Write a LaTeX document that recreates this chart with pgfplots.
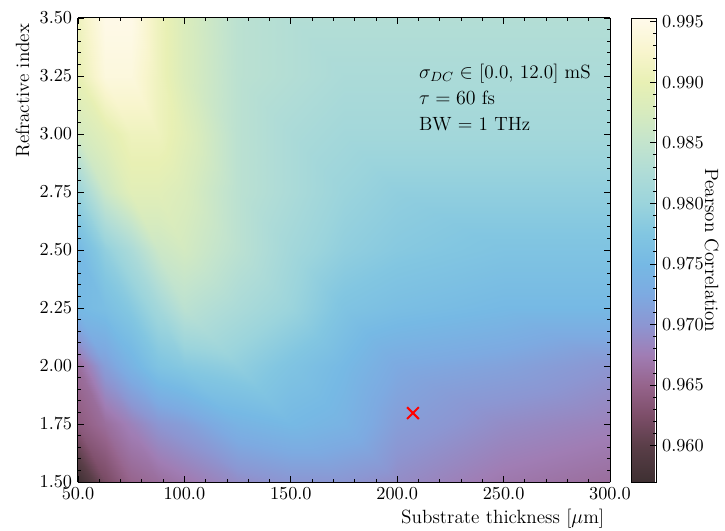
\documentclass[border=0pt]{standalone}
\usepackage{pgfplots}
\pgfplotsset{compat=1.18}
\usepackage{pgfplotstable}

\pgfplotstableread{
x y z
50 1.50 0.957
62.5 1.50 0.962
75 1.50 0.965
87.5 1.50 0.966
100 1.50 0.967
125 1.50 0.969
150 1.50 0.970
175 1.50 0.970
200 1.50 0.969
250 1.50 0.967
300 1.50 0.966
50 1.75 0.964
62.5 1.75 0.966
75 1.75 0.968
87.5 1.75 0.970
100 1.75 0.971
125 1.75 0.974
150 1.75 0.975
175 1.75 0.974
200 1.75 0.971
250 1.75 0.969
300 1.75 0.968
50 2.00 0.966
62.5 2.00 0.971
75 2.00 0.974
87.5 2.00 0.977
100 2.00 0.978
125 2.00 0.979
150 2.00 0.977
175 2.00 0.975
200 2.00 0.9725
250 2.00 0.9715
300 2.00 0.970
50 2.25 0.975
62.5 2.25 0.976
75 2.25 0.978
87.5 2.25 0.981
100 2.25 0.984
125 2.25 0.982
150 2.25 0.980
175 2.25 0.977
200 2.25 0.976
250 2.25 0.975
300 2.25 0.975
50 2.50 0.975
62.5 2.50 0.979
75 2.50 0.982
87.5 2.50 0.986
100 2.50 0.987
125 2.50 0.984
150 2.50 0.981
175 2.50 0.979
200 2.50 0.978
250 2.50 0.977
300 2.50 0.977
50 2.75 0.980
62.5 2.75 0.986
75 2.75 0.989
87.5 2.75 0.989
100 2.75 0.988
125 2.75 0.984
150 2.75 0.982
175 2.75 0.980
200 2.75 0.979
250 2.75 0.979
300 2.75 0.979
50 3.00 0.987
62.5 3.00 0.989
75 3.00 0.991
87.5 3.00 0.991
100 3.00 0.989
125 3.00 0.984
150 3.00 0.982
175 3.00 0.981
200 3.00 0.981
250 3.00 0.981
300 3.00 0.981
50 3.25 0.990
62.5 3.25 0.994
75 3.25 0.994
87.5 3.25 0.991
100 3.25 0.988
125 3.25 0.984
150 3.25 0.983
175 3.25 0.982
200 3.25 0.982
250 3.25 0.982
300 3.25 0.982
50 3.50 0.991
62.5 3.50 0.995
75 3.50 0.995
87.5 3.50 0.991
100 3.50 0.988
125 3.50 0.984
150 3.50 0.983
175 3.50 0.983
200 3.50 0.983
250 3.50 0.983
300 3.50 0.983
}\heat

\pgfplotsset{
  colormap={pearson}{
    rgb255(0pt)=(62,48,50)
    rgb255(30pt)=(90,62,72)
    rgb255(55pt)=(125,78,105)
    rgb255(80pt)=(150,100,140)
    rgb255(105pt)=(160,125,180)
    rgb255(130pt)=(140,150,210)
    rgb255(155pt)=(125,170,225)
    rgb255(180pt)=(118,185,228)
    rgb255(205pt)=(130,198,225)
    rgb255(230pt)=(155,212,220)
    rgb255(255pt)=(175,220,215)
    rgb255(280pt)=(195,228,205)
    rgb255(305pt)=(215,235,190)
    rgb255(330pt)=(232,240,180)
    rgb255(355pt)=(248,245,205)
    rgb255(383pt)=(255,250,235)
  }
}

\begin{document}
\begin{tikzpicture}
\begin{axis}[
  view={0}{90},
  scale only axis,
  width=319.2pt, height=278.4pt,
  xmin=50, xmax=300, ymin=1.5, ymax=3.5,
  colormap name=pearson,
  point meta min=0.957, point meta max=0.9953,
  xtick={50,100,...,300},
  ytick={1.5,1.75,...,3.5},
  minor x tick num=4, minor y tick num=4,
  tick align=inside,
  xtick pos=both, ytick pos=both,
  major tick length=3.6pt, minor tick length=2pt,
  every tick/.style={black, line width=0.5pt},
  axis line style={line width=0.6pt},
  tick label style={font=\fontsize{11}{13}\selectfont},
  label style={font=\fontsize{11.5}{14}\selectfont},
  xticklabel style={/pgf/number format/.cd, fixed, fixed zerofill, precision=1},
  yticklabel style={/pgf/number format/.cd, fixed, fixed zerofill, precision=2},
  scaled ticks=false,
  xlabel={Substrate thickness [$\mu$m]},
  ylabel={Refractive index},
  xlabel style={at={(axis description cs:1,-0.0898)}, anchor=base east},
  ylabel style={at={(axis description cs:-0.0921,1)}, anchor=base east},
  colorbar,
  colorbar style={
    at={(parent axis.north east)}, anchor=north west, xshift=4.2pt,
    width=15pt,
    ytick={0.960,0.965,...,0.995},
    minor y tick num=4,
    tick align=inside,
    ytick pos=right,
    major tick length=3.6pt, minor tick length=2pt,
    tick label style={font=\fontsize{11}{13}\selectfont},
    label style={font=\fontsize{11.5}{14}\selectfont},
    yticklabel style={/pgf/number format/.cd, fixed, fixed zerofill, precision=3},
    scaled y ticks=false,
    ylabel={Pearson Correlation},
    ylabel style={at={(axis description cs:2.96,0.5)}, anchor=base, rotate=180},
  },
]
\addplot3[surf, shader=interp, mesh/cols=11] table[x=x, y=y, z=z] {\heat};
\addplot3[only marks, mark=x, mark size=5pt, red, mark options={line width=1.2pt, red}] coordinates {(207.4,1.797,1)};
\node[anchor=base west, font=\fontsize{11.5}{14}\selectfont] at (axis cs:207.5,3.241,1) {$\sigma_{DC} \in$ [0.0, 12.0] mS};
\node[anchor=base west, font=\fontsize{11.5}{14}\selectfont] at (axis cs:207.5,3.129,1) {$\tau = 60$ fs};
\node[anchor=base west, font=\fontsize{11.5}{14}\selectfont] at (axis cs:207.5,3.013,1) {BW = 1 THz};
\end{axis}
\pgfresetboundingbox
\path[use as bounding box] (-46.8pt,-28.8pt) rectangle (388.2pt,289.2pt);
\end{tikzpicture}
\end{document}
